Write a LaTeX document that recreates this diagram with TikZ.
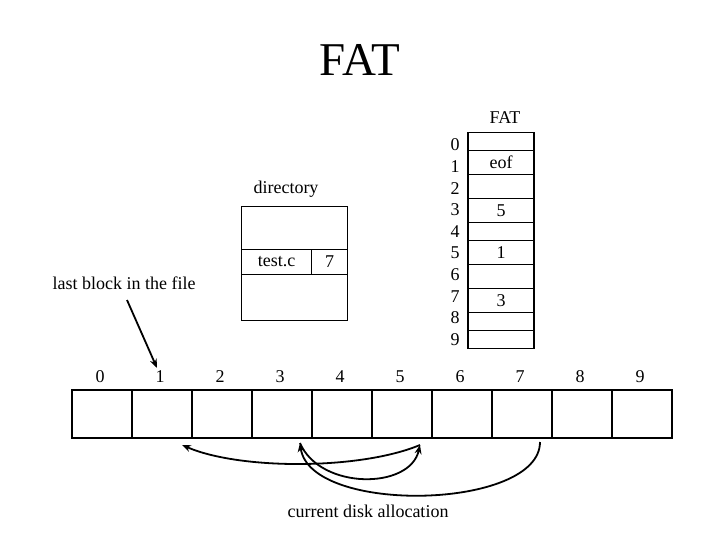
\documentclass[tikz,border=0pt]{standalone}
\usepackage{fontspec}
\setmainfont{Liberation Serif}
\usetikzlibrary{arrows.meta}
\begin{document}
\begin{tikzpicture}[x=1pt,y=-1pt,
  txt/.style={font=\fontsize{18}{20}\selectfont, inner sep=0pt},
  cell/.style={draw, line width=1.1pt, minimum width=60pt, minimum height=48pt, inner sep=0pt},
  fatrow/.style={draw, line width=1.1pt, minimum width=66pt, inner sep=0pt, anchor=north, font=\fontsize{18}{20}\selectfont},
  box/.style={draw, line width=1.1pt, inner sep=0pt, anchor=north west, font=\fontsize{18}{20}\selectfont},
  link/.style={line width=1.8pt, -{Stealth[length=9pt,width=7pt]}}]
\useasboundingbox (0,0) rectangle (720,540);
% title
\node[inner sep=0pt, font=\fontsize{47}{50}\selectfont] (title) at (360,60) {FAT};
% disk cells and numbers
\foreach \i in {0,...,9}{
  \node[cell] (c\i) at (102+60*\i,414) {};
  \node[txt] (n\i) at (100+60*\i,377) {\i};
}
% FAT table
\node[txt] (fatlbl) at (505,118) {FAT};
\node[fatrow, minimum height=18pt] (f0) at (501,132) {};
\node[fatrow, minimum height=24pt] (f1) at (501,150) {eof};
\node[fatrow, minimum height=24pt] (f2) at (501,174) {};
\node[fatrow, minimum height=24pt] (f3) at (501,198) {5};
\node[fatrow, minimum height=18pt] (f4) at (501,222) {};
\node[fatrow, minimum height=24pt] (f5) at (501,240) {1};
\node[fatrow, minimum height=24pt] (f6) at (501,264) {};
\node[fatrow, minimum height=24pt] (f7) at (501,288) {3};
\node[fatrow, minimum height=18pt] (f8) at (501,312) {};
\node[fatrow, minimum height=18pt] (f9) at (501,330) {};
\foreach \i in {0,...,9}{
  \node[txt] (idx\i) at (455,145+21.6*\i) {\i};
}
% directory
\node[txt] (dirlbl) at (286,189) {directory};
\node[box, minimum width=106pt, minimum height=43pt] (d0) at (241,206) {};
\node[box, minimum width=70pt, minimum height=25pt] (d1) at (241,249) {test.c};
\node[box, minimum width=36pt, minimum height=25pt] (d2) at (311,249) {7};
\node[box, minimum width=106pt, minimum height=46pt] (d3) at (241,274) {};
% last block label
\node[txt] (last) at (124,283) {last block in the file};
\coordinate (lastA) at (127,300);
\coordinate (lastB) at (157,368);
\draw[line width=1.8pt, -{Stealth[length=9pt,width=7pt]}] (lastA) -- (lastB);
% allocation chain 7 -> 3 -> 5 -> 1
\coordinate (b7) at (540,442);
\coordinate (b3) at (300,443);
\coordinate (b5) at (420,445);
\coordinate (b1) at (182,445);
\draw[link] (b7) .. controls (540,510) and (310,515) .. (b3);
\draw[link] (b3) .. controls (320,490) and (410,490) .. (b5);
\draw[link] (b5) .. controls (360,470) and (240,470) .. (b1);
\node[txt] (cur) at (368,511) {current disk allocation};
\end{tikzpicture}
\end{document}
